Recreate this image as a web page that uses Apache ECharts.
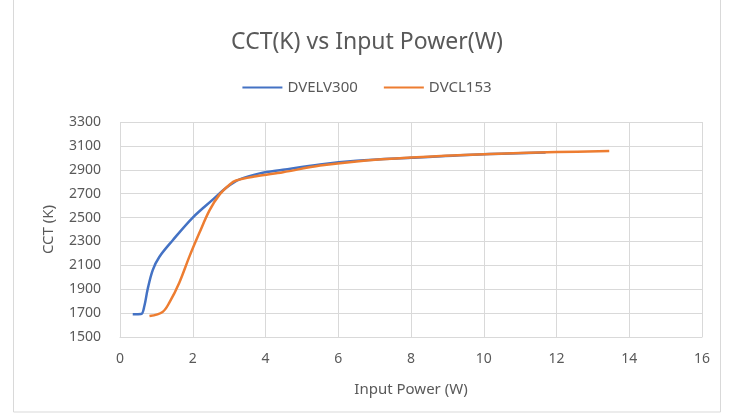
<!DOCTYPE html>
<html><head><meta charset="utf-8">
<script src="https://cdn.jsdelivr.net/npm/echarts@6/dist/echarts.min.js"></script>
<style>html,body{margin:0;padding:0;background:#fff}#c{width:734px;height:413px}</style>
</head><body><div id="c"></div>
<script>
var seriesNames = ['DVELV300', 'DVCL153'];
var blueX = [0.35,0.58,0.67,0.76,0.9,1.08,1.45,2.0,2.55,2.92,3.29,3.84,4.48,5.5,6.5,8,10,11.7];
var blueY = [1690,1692,1760,1900,2060,2170,2310,2500,2650,2750,2820,2870,2900,2945,2975,3000,3030,3045];
var orangeX = [0.81,1.17,1.36,1.63,1.91,2.18,2.46,2.73,3.01,3.19,3.74,4.48,5.5,6.5,8,10,12,13.45];
var orangeY = [1675,1710,1790,1955,2175,2370,2560,2690,2775,2810,2845,2880,2935,2970,3002,3030,3048,3057];
function pairs(xs, ys){ return xs.map(function(x,i){return [x, ys[i]];}); }
var font = 'Noto Sans';
var chart = echarts.init(document.getElementById('c'));
chart.setOption({
  animation: false,
  textStyle: {fontFamily: font},
  title: {text: 'CCT(K) vs Input Power(W)', left: 'center', top: 26,
    textStyle: {fontFamily: font, fontSize: 23, fontWeight: 'normal', color: '#595959'}},
  legend: {top: 75, left: 'center', itemWidth: 40, itemHeight: 2, itemGap: 26,
    icon: 'rect',
    textStyle: {fontFamily: font, fontSize: 15, color: '#595959'},
    data: seriesNames},
  grid: {left: 120, right: 32, top: 122, bottom: 76},
  xAxis: {type: 'value', min: 0, max: 16, interval: 2,
    name: 'Input Power (W)', nameLocation: 'middle', nameGap: 45,
    nameTextStyle: {fontFamily: font, fontSize: 15, color: '#595959'},
    axisLine: {show: true, lineStyle: {color: '#d9d9d9'}},
    axisTick: {show: false},
    axisLabel: {color: '#595959', fontSize: 14, margin: 15},
    splitLine: {show: true, lineStyle: {color: '#d9d9d9'}}},
  yAxis: {type: 'value', min: 1500, max: 3300, interval: 200,
    name: 'CCT (K)', nameLocation: 'middle', nameGap: 64, nameRotate: 90,
    nameTextStyle: {fontFamily: font, fontSize: 15, color: '#595959'},
    axisLine: {show: false}, axisTick: {show: false},
    axisLabel: {color: '#595959', fontSize: 14, margin: 19,
      formatter: function(v){ return String(v); }},
    splitLine: {show: true, lineStyle: {color: '#d9d9d9'}}},
  series: [
    {name: seriesNames[0], type: 'line', smooth: 0.35, showSymbol: false,
     lineStyle: {width: 2.5, color: '#4472C4'}, itemStyle: {color: '#4472C4'},
     data: pairs(blueX, blueY)},
    {name: seriesNames[1], type: 'line', smooth: 0.35, showSymbol: false,
     lineStyle: {width: 2.5, color: '#ED7D31'}, itemStyle: {color: '#ED7D31'},
     data: pairs(orangeX, orangeY)}
  ],
  graphic: [{type: 'rect', shape: {x: 13.5, y: -2, width: 707, height: 414},
    style: {fill: 'none', stroke: '#d9d9d9', lineWidth: 1}, silent: true}]
});
</script></body></html>
